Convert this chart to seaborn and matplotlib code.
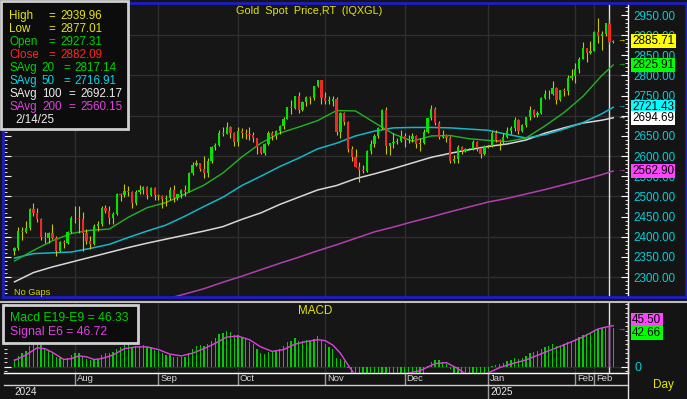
import matplotlib
matplotlib.use("Agg")
import matplotlib.pyplot as plt
import matplotlib.transforms as mtransforms
from matplotlib.ticker import MultipleLocator, FuncFormatter, FixedLocator
from matplotlib.patches import Rectangle
from matplotlib.lines import Line2D
import numpy as np
import pandas as pd
import seaborn as sns

plt.rcParams['font.family'] = ['Liberation Sans', 'DejaVu Sans']

# ---- data (daily, Jul 10 2024 .. Feb 17 2025) ----
dates = pd.bdate_range("2024-07-10", "2025-02-17")

opens = [2364, 2371, 2415, 2411, 2422, 2469, 2459, 2445, 2400, 2396, 2409, 2397, 2364, 2387, 2384, 2411,
         2447, 2446, 2443, 2410, 2390, 2383, 2427, 2431, 2472, 2465, 2447, 2456, 2507, 2504, 2514, 2512, 2484, 2512, 2517, 2524, 2504, 2521,
         2503, 2500, 2493, 2495, 2516, 2497, 2506, 2516, 2512, 2558, 2578, 2582, 2569, 2559, 2587, 2622, 2628, 2657, 2656, 2672, 2658,
         2634, 2663, 2658, 2656, 2653, 2644, 2622, 2608, 2631, 2657, 2649, 2662, 2674, 2693, 2721, 2720, 2748, 2715, 2735, 2747, 2743, 2774, 2788,
         2744, 2737, 2737, 2742, 2659, 2706, 2685, 2618, 2598, 2573, 2565, 2562, 2612, 2631, 2650, 2670, 2715, 2625, 2632, 2636, 2638,
         2650, 2640, 2643, 2650, 2631, 2633, 2660, 2694, 2718, 2681, 2648, 2652, 2646, 2587, 2594, 2622, 2612, 2617, 2618, 2634, 2621, 2606,
         2624, 2625, 2658, 2640, 2636, 2648, 2662, 2670, 2689, 2663, 2677, 2696, 2715, 2702, 2708, 2745, 2755, 2754, 2770, 2740, 2763, 2761, 2794,
         2798, 2815, 2842, 2867, 2856, 2861, 2908, 2898, 2904, 2927.31, 2882]
highs = [2375, 2424, 2425, 2440, 2472, 2483, 2470, 2447, 2412, 2412, 2431, 2402, 2390, 2392, 2413, 2451,
         2477, 2477, 2461, 2420, 2401, 2431, 2440, 2475, 2478, 2476, 2462, 2509, 2509, 2531, 2526, 2514, 2516, 2528, 2527, 2525, 2524, 2524,
         2505, 2503, 2503, 2523, 2529, 2507, 2518, 2529, 2560, 2586, 2590, 2584, 2600, 2596, 2625, 2632, 2664, 2671, 2685, 2675, 2660,
         2673, 2670, 2667, 2671, 2660, 2646, 2626, 2633, 2662, 2661, 2665, 2676, 2696, 2722, 2740, 2749, 2758, 2737, 2749, 2748, 2775, 2790, 2790,
         2760, 2750, 2750, 2747, 2710, 2709, 2686, 2626, 2618, 2585, 2577, 2615, 2639, 2656, 2673, 2716, 2721, 2633, 2657, 2645, 2665,
         2657, 2652, 2657, 2653, 2645, 2667, 2695, 2726, 2721, 2686, 2664, 2654, 2650, 2603, 2627, 2626, 2620, 2621, 2639, 2637, 2623, 2628,
         2628, 2663, 2665, 2642, 2657, 2671, 2674, 2698, 2693, 2680, 2698, 2724, 2716, 2713, 2746, 2763, 2763, 2786, 2772, 2765, 2770, 2800, 2817,
         2830, 2845, 2882, 2869, 2886, 2911, 2942, 2910, 2930, 2939.96, 2888]
lows = [2355, 2367, 2392, 2410, 2416, 2451, 2436, 2393, 2384, 2385, 2395, 2353, 2362, 2372, 2381, 2410,
        2433, 2410, 2364, 2382, 2369, 2380, 2415, 2427, 2459, 2432, 2431, 2454, 2489, 2498, 2502, 2471, 2478, 2506, 2506, 2494, 2500, 2491,
        2490, 2472, 2476, 2490, 2485, 2492, 2495, 2500, 2510, 2554, 2575, 2562, 2546, 2548, 2583, 2614, 2624, 2650, 2654, 2646, 2624,
        2624, 2644, 2643, 2640, 2634, 2605, 2604, 2603, 2627, 2641, 2642, 2655, 2666, 2692, 2705, 2717, 2708, 2711, 2725, 2728, 2740, 2772, 2730,
        2730, 2730, 2725, 2652, 2644, 2677, 2610, 2589, 2572, 2536, 2557, 2560, 2604, 2623, 2646, 2668, 2605, 2602, 2619, 2631, 2636,
        2622, 2632, 2635, 2620, 2613, 2631, 2658, 2690, 2676, 2643, 2646, 2636, 2583, 2583, 2584, 2605, 2609, 2614, 2615, 2613, 2596, 2603,
        2620, 2622, 2635, 2614, 2630, 2645, 2656, 2663, 2656, 2660, 2672, 2689, 2697, 2697, 2704, 2741, 2741, 2752, 2730, 2737, 2750, 2752, 2790,
        2781, 2806, 2841, 2834, 2853, 2860, 2880, 2864, 2899, 2877.01, 2880]
closes = [2371, 2415, 2411, 2422, 2469, 2459, 2445, 2400, 2396, 2409, 2397, 2364, 2387, 2384, 2411, 2447,
          2446, 2443, 2410, 2390, 2383, 2427, 2431, 2472, 2465, 2447, 2456, 2507, 2504, 2514, 2512, 2484, 2512, 2517, 2524, 2504, 2521, 2503,
          2500, 2493, 2495, 2516, 2497, 2506, 2516, 2512, 2558, 2578, 2582, 2569, 2559, 2587, 2622, 2628, 2657, 2656, 2672, 2658, 2634,
          2663, 2658, 2656, 2653, 2644, 2622, 2608, 2631, 2657, 2649, 2662, 2674, 2693, 2721, 2720, 2748, 2715, 2735, 2747, 2743, 2774, 2788, 2744,
          2736, 2737, 2742, 2659, 2706, 2685, 2618, 2598, 2573, 2565, 2562, 2612, 2631, 2650, 2670, 2715, 2625, 2632, 2636, 2638, 2650,
          2640, 2643, 2650, 2631, 2633, 2660, 2694, 2718, 2681, 2648, 2652, 2646, 2587, 2594, 2622, 2612, 2617, 2618, 2634, 2621, 2606, 2624,
          2625, 2658, 2640, 2636, 2648, 2662, 2670, 2689, 2663, 2677, 2696, 2715, 2702, 2708, 2745, 2755, 2754, 2770, 2740, 2763, 2761, 2794, 2798,
          2815, 2842, 2867, 2856, 2861, 2908, 2898, 2904, 2929, 2882.09, 2885.71]

macd = [9, 12, 15, 18, 23, 26, 27, 24, 20, 17, 15, 11, 10, 9, 10, 13,
        15, 15, 12, 9, 7, 8, 9, 13, 15, 15, 16, 20, 22, 24, 25, 22, 23, 23, 24, 22, 22, 19,
        17, 15, 13, 13, 11, 11, 11, 11, 15, 20, 23, 24, 23, 25, 29, 32, 36, 38, 40, 39, 35,
        35, 33, 31, 28, 25, 20, 15, 14, 16, 16, 18, 20, 23, 27, 29, 32, 29, 29, 30, 29, 31, 34, 29,
        25, 22, 20, 10, 9, 6, -1, -9, -16, -22, -26, -24, -21, -17, -12, -9, -10, -10, -10, -10, -9,
        -10, -10, -9, -10, -10, -8, 1, 5, 8, 7, 5, 3, -3, -10, -10, -11, -11, -11, -10, -10, -11, -9,
        -8, 1, 2, 3, 4, 6, 7, 10, 9, 10, 12, 15, 16, 17, 20, 22, 23, 25, 23, 23, 25, 27, 29,
        31, 33, 35, 36, 38, 41, 42, 43, 44, 46.33, 42.66]

signal_idx = [0, 3, 6, 8, 10, 13, 15, 17, 19, 21, 23, 26, 29, 32, 35, 38, 41, 44, 47, 50, 53, 56, 59, 62,
              65, 68, 71, 74, 77, 80, 82, 84, 86, 88, 89, 90, 93, 96, 99, 102, 104, 107, 111, 114, 116,
              117, 119, 122, 125, 128, 131, 135, 140, 146, 150, 154, 157, 158]
signal_val = [7, 13, 21, 20, 16, 8, 9, 12, 11, 8, 9, 13, 20, 22, 22, 19, 14, 12, 15, 20, 26, 33, 34, 30,
              22, 17, 19, 25, 28, 30, 29, 24, 15, 2, -4, -10, -20, -20, -14, -10, -7, -4.5, 3.5, 4.5, 0,
              -2, -8, -12, -7, -1, 3, 7.5, 16, 26, 33, 42, 45, 45.5]

sma_idx = list(range(0, 156, 5)) + [158]
sma20 = [2340, 2366, 2390, 2408, 2416, 2419, 2448, 2472, 2485, 2506, 2528, 2558, 2598, 2632, 2657, 2672, 2688,
         2713, 2712, 2683, 2655, 2637, 2650, 2651, 2643, 2639, 2636, 2645, 2675, 2708, 2748, 2800, 2826]
sma50 = [2347, 2358, 2360, 2362, 2371, 2381, 2398, 2414, 2429, 2451, 2475, 2498, 2527, 2550, 2574, 2595, 2618,
         2632, 2650, 2662, 2670, 2671, 2671, 2670, 2667, 2664, 2654, 2645, 2653, 2667, 2683, 2705, 2721]
sma100 = [2288, 2311, 2325, 2337, 2349, 2361, 2373, 2384, 2394, 2404, 2414, 2425, 2443, 2459, 2480, 2498, 2516,
          2527, 2544, 2556, 2569, 2583, 2597, 2607, 2616, 2624, 2630, 2640, 2657, 2670, 2682, 2689, 2695]
sma200_idx = list(range(40, 156, 5)) + [158]
sma200 = [2245, 2258, 2271, 2287, 2302, 2318, 2334, 2349, 2365, 2380, 2396, 2412, 2424, 2437, 2449, 2462,
          2474, 2486, 2495, 2506, 2517, 2529, 2541, 2554, 2563]

month_days = ["2024-08-01", "2024-09-02", "2024-10-01", "2024-11-01", "2024-12-02",
              "2025-01-01", "2025-02-03", "2025-02-10"]
month_labels = ["Aug", "Sep", "Oct", "Nov", "Dec", "Jan", "Feb", "Feb"]
cursor_day = "2025-02-14"

# ---- colours ----
BG = "#141414"
PANEL = "#161616"
GRID = "#2e2e2e"
UP, DOWN, WICK = "#00e400", "#f02828", "#c8c800"
C20, C50, C100, C200 = "#22b422", "#10b8c8", "#d8d8d8", "#b040b0"
CYAN = "#00d0d8"
YEL = "#e6e600"

W, H = 687, 399
fig = plt.figure(figsize=(W / 100, H / 100), dpi=100, facecolor=BG)


def px(x, y):
    return x / W, 1 - y / H


def ptext(x, y, s, color, size, ha="left", va="center", **kw):
    fig.text(x / W, 1 - y / H, s, color=color, fontsize=size, ha=ha, va=va, **kw)


ax = fig.add_axes([4 / W, 1 - 297 / H, 624 / W, 294 / H], facecolor=PANEL)
ax2 = fig.add_axes([4 / W, 1 - 373 / H, 624 / W, 70 / H], facecolor=PANEL)

idx = np.arange(len(closes))
month_pos = [dates.get_loc(pd.Timestamp(d)) for d in month_days]
cur = dates.get_loc(pd.Timestamp(cursor_day))
XL = (-2.77, 161.9)

# ---- price panel ----
for v in range(2300, 3000, 100):
    ax.axhline(v, color=GRID, lw=1, zorder=0.5)
for m in month_pos:
    ax.axvline(m, color=GRID, lw=1, zorder=0.5)
ax.axvline(cur, color="#e0e0e0", lw=1, zorder=1.5)

ma = pd.DataFrame({"idx": sma_idx, "s20": sma20, "s50": sma50, "s100": sma100})
ma200 = pd.DataFrame({"idx": sma200_idx, "s200": sma200})
sns.lineplot(data=ma200, x="idx", y="s200", color=C200, lw=1.1, ax=ax, zorder=2)
sns.lineplot(data=ma, x="idx", y="s100", color=C100, lw=1.1, ax=ax, zorder=2)
sns.lineplot(data=ma, x="idx", y="s50", color=C50, lw=1.1, ax=ax, zorder=2)
sns.lineplot(data=ma, x="idx", y="s20", color=C20, lw=1.0, ax=ax, zorder=2)

o = np.array(opens, float)
c = np.array(closes, float)
hi = np.array(highs, float)
lo = np.array(lows, float)
cols = [UP if cc >= oo else DOWN for oo, cc in zip(o, c)]
ax.vlines(idx, lo, hi, color=WICK, lw=0.8, zorder=3)
body = np.maximum(np.abs(c - o), 1.2)
ax.bar(idx, body, bottom=np.minimum(o, c), width=0.6, color=cols, linewidth=0, zorder=4)

ax.set_xlim(*XL)
ax.set_ylim(2250.4, 2979.8)
ax.set_xlabel("")
ax.set_ylabel("")
ax.yaxis.set_major_locator(MultipleLocator(50))
ax.yaxis.set_minor_locator(MultipleLocator(10))
ax.yaxis.set_major_formatter(FuncFormatter(lambda v, p: f"{v:.2f}"))
ax.tick_params(axis="y", which="both", left=True, right=True, labelleft=False, labelright=True,
               direction="in", color="white", labelcolor=CYAN, labelsize=8.4)
ax.tick_params(axis="y", which="major", length=5, pad=4)
ax.tick_params(axis="y", which="minor", length=2.5)
ax.tick_params(axis="x", which="both", bottom=False, labelbottom=False)
for s in ["left", "top", "bottom"]:
    ax.spines[s].set_visible(False)
ax.spines["right"].set_color("white")
ax.spines["right"].set_linewidth(1)

# ---- MACD panel ----
for m in month_pos:
    ax2.axvline(m, color=GRID, lw=1, zorder=0.5)
ax2.axhline(0, color=GRID, lw=1, zorder=0.5)
ax2.axvline(cur, color="#e0e0e0", lw=1, zorder=1.5)
md = pd.DataFrame({"idx": idx, "macd": macd})
sns.barplot(data=md, x="idx", y="macd", native_scale=True, color="#00cc00", saturation=1,
            width=0.35, errorbar=None, linewidth=0, ax=ax2, zorder=2)
sg = pd.DataFrame({"idx": signal_idx, "sig": signal_val})
sns.lineplot(data=sg, x="idx", y="sig", color="#e040e0", lw=1.0, ax=ax2, zorder=3)
ax2.vlines(cur, 0, signal_val[-2], color="#e040e0", lw=1, zorder=3)
ax2.set_xlim(*XL)
ax2.set_ylim(-7, 70.8)
ax2.set_xlabel("")
ax2.set_ylabel("")
ax2.yaxis.set_major_locator(FixedLocator([0]))
ax2.yaxis.set_minor_locator(MultipleLocator(5))
ax2.yaxis.set_major_formatter(FuncFormatter(lambda v, p: "0"))
ax2.tick_params(axis="y", which="both", left=True, right=True, labelleft=False, labelright=True,
                direction="in", color="white", labelcolor=CYAN, labelsize=9)
ax2.tick_params(axis="y", which="major", length=5, pad=5)
ax2.tick_params(axis="y", which="minor", length=2.5)
ax2.tick_params(axis="x", which="both", bottom=False, labelbottom=False)
for s in ["left", "top"]:
    ax2.spines[s].set_visible(False)
for s in ["right", "bottom"]:
    ax2.spines[s].set_color("white")
    ax2.spines[s].set_linewidth(1)

# month / year rows below the MACD panel
tb = mtransforms.blended_transform_factory(ax2.transData, ax2.transAxes)
for m, lab in zip(month_pos, month_labels):
    ax2.plot([m, m], [0, -11 / 70], color="#9a9a9a", lw=1, transform=tb, clip_on=False)
    ax2.text(m + 0.45, -5.5 / 70, lab, color="#d8d8d8", fontsize=6.8, ha="left", va="center",
             transform=tb, clip_on=False)
jan = month_pos[5]
ax2.plot([jan, jan], [-11 / 70, -26 / 70], color="#9a9a9a", lw=1, transform=tb, clip_on=False)
ptext(14, 392, "2024", "#e8e8e8", 7.2)
ptext(490, 392, "2025", "#e8e8e8", 7.2)
ptext(653, 385, "Day", YEL, 8.5)

# frame lines
fig.add_artist(Rectangle(px(3, 297), 683 / W, 294 / H, fill=False, ec="#1c1cc8", lw=2,
                         transform=fig.transFigure))
fig.add_artist(Line2D([0, 1], [1 - 301.5 / H] * 2, color="#bdbdbd", lw=1.5, transform=fig.transFigure))
fig.add_artist(Line2D([4 / W, 628 / W], [1 - 384.5 / H] * 2, color="#d0d0d0", lw=1, transform=fig.transFigure))
fig.add_artist(Line2D([628 / W, 628 / W], [0, 1 - 303 / H], color="#e0e0e0", lw=1, transform=fig.transFigure))

# ---- titles ----
ptext(309, 11, "Gold  Spot  Price,RT  (IQXGL)", YEL, 7.8, ha="center")
ptext(315, 311, "MACD", YEL, 8.4, ha="center")
ptext(14, 292.5, "No Gaps", "#d4d400", 6.6)

# ---- data window (top-left) ----
fig.add_artist(Rectangle(px(1, 129), 127 / W, 128 / H, fc="#0c0c0c", ec="#cfcfcf", lw=2,
                         transform=fig.transFigure, zorder=5))
rows = [
    (16, [("High", 9), ("=", 48), ("2939.96", 60)], YEL),
    (29, [("Low", 9), ("=", 48), ("2877.01", 60)], YEL),
    (42, [("Open", 9), ("=", 48), ("2927.31", 60)], "#00d200"),
    (55, [("Close", 9), ("=", 48), ("2882.09", 60)], "#ff2424"),
    (68, [("SAvg", 9), ("20", 41), ("=", 63), ("2817.14", 74)], "#00d200"),
    (81, [("SAvg", 9), ("50", 41), ("=", 63), ("2716.91", 74)], "#00d8e8"),
    (94, [("SAvg", 9), ("100", 42), ("=", 68), ("2692.17", 80)], "#ececec"),
    (107, [("SAvg", 9), ("200", 42), ("=", 68), ("2560.15", 80)], "#e040e0"),
    (120, [("2/14/25", 15)], "#ececec"),
]
for y, parts, col in rows:
    for s, x in parts:
        ptext(x, y, s, col, 8.4, zorder=6)

# MACD data window
fig.add_artist(Rectangle(px(3, 343), 135 / W, 38 / H, fc="#0c0c0c", ec="#cfcfcf", lw=2,
                         transform=fig.transFigure, zorder=5))
ptext(10, 318, "Macd E19-E9 = 46.33", "#00d200", 8.8, zorder=6)
ptext(10, 332, "Signal E6 = 46.72", "#e040e0", 8.8, zorder=6)

# ---- last value tags on the right ----
def ypx(v):
    return 15 + (2950 - v) * 0.4031


tags = [(2885.71, "#ffff00", YEL), (2825.91, "#00ff00", "#22c022"), (2721.43, "#00ffff", C50),
        (2694.69, "#ffffff", "#e0e0e0"), (2562.90, "#ff44ff", C200)]
for v, bg, ac in tags:
    yy = ypx(v)
    ptext(632, yy, f"{v:.2f}", "black", 8.4, zorder=7,
          bbox=dict(boxstyle="square,pad=0.12", fc=bg, ec="none"))
    ptext(621, yy, "→", ac, 6, ha="center", zorder=7)

ptext(632, 320, "45.50", "black", 8.4, zorder=7, bbox=dict(boxstyle="square,pad=0.12", fc="#ff44ff", ec="none"))
ptext(632, 333, "42.66", "black", 8.4, zorder=7, bbox=dict(boxstyle="square,pad=0.12", fc="#00ff00", ec="none"))
ptext(621, 330, "→", "#22c022", 6, ha="center", zorder=7)

fig.savefig("out.png", dpi=100, facecolor=BG)
